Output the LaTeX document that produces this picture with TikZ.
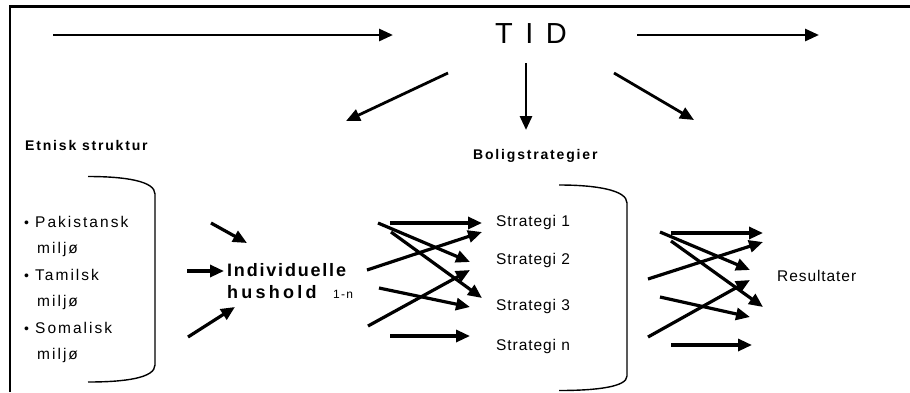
\documentclass[tikz,border=0pt]{standalone}
\usepackage{fontspec}
\setmainfont{Liberation Sans}
\newfontfamily\wideA[LetterSpace=13]{Liberation Sans}
\newfontfamily\wideB[LetterSpace=13]{Liberation Sans}
\newfontfamily\wideC[LetterSpace=10]{Liberation Sans}
\newfontfamily\wideE[LetterSpace=18]{Liberation Sans}
\newfontfamily\wideD[LetterSpace=6]{Liberation Sans}
\usetikzlibrary{arrows.meta}
\tikzset{
  lbl/.style={inner sep=0pt, anchor=base west},
  flow/.style={line width=3.2pt, -{Triangle[length=14pt,width=12pt]}},
  timearrow/.style={line width=2.8pt, -{Triangle[length=14pt,width=12pt]}},
  brace/.style={line width=1.4pt},
  frame/.style={line width=2.4pt}
}
\begin{document}
\begin{tikzpicture}[x=1pt,y=-1pt]
\useasboundingbox (0,0) rectangle (910,392);
\fill[white] (0,0) rectangle (910,392);
% frame (only the top and left edges)
\draw[frame] (10,392) -- (10,6.5) -- (910,6.5);

% time line
\node[lbl] (tid) at (495,43) {\fontsize{29}{29}\selectfont T\hspace{12.5pt}I\hspace{12.5pt}D};
\coordinate (t1a) at (53,35);   \coordinate (t1b) at (393,35);
\coordinate (t2a) at (637,35);  \coordinate (t2b) at (819,35);
\draw[timearrow] (t1a) -- (t1b);
\draw[timearrow] (t2a) -- (t2b);
\coordinate (dl0) at (448,73);  \coordinate (dl1) at (346,121);
\coordinate (dd0) at (526,63);  \coordinate (dd1) at (526,130);
\coordinate (dr0) at (614,73);  \coordinate (dr1) at (694,120);
\draw[timearrow] (dl0) -- (dl1);
\draw[timearrow] (dd0) -- (dd1);
\draw[timearrow] (dr0) -- (dr1);

% headings
\node[lbl] (etnisk) at (25,150.7) {\wideB\bfseries\fontsize{14}{14}\selectfont Etnisk struktur};
\node[lbl] (bolig) at (473,159.5) {\wideB\bfseries\fontsize{14}{14}\selectfont Boligstrategier};

% ethnic groups
\node[lbl] (bul1) at (24,227) {\fontsize{14}{14}\selectfont\textbullet};
\node[lbl] (pak) at (35,227) {\wideA\fontsize{15.5}{15.5}\selectfont Pakistansk};
\node[lbl] (pakm) at (37,253.5) {\wideA\fontsize{15.5}{15.5}\selectfont miljø};
\node[lbl] (bul2) at (24,280) {\fontsize{14}{14}\selectfont\textbullet};
\node[lbl] (tam) at (35,280) {\wideA\fontsize{15.5}{15.5}\selectfont Tamilsk};
\node[lbl] (tamm) at (37,306.5) {\wideA\fontsize{15.5}{15.5}\selectfont miljø};
\node[lbl] (bul3) at (24,333) {\fontsize{14}{14}\selectfont\textbullet};
\node[lbl] (som) at (35,333) {\wideA\fontsize{15.5}{15.5}\selectfont Somalisk};
\node[lbl] (somm) at (37,359.5) {\wideA\fontsize{15.5}{15.5}\selectfont miljø};

% left bracket
\draw[brace] (88,176.5) .. controls (125,176.5) and (155,181) .. (155,194)
  -- (155,365) .. controls (155,378) and (125,382) .. (88,382);

% households
\node[lbl] (indiv) at (227,276) {\wideC\bfseries\fontsize{18}{18}\selectfont Individuelle};
\node[lbl] (hus) at (227,298) {\wideE\bfseries\fontsize{18}{18}\selectfont hushold};
\node[lbl] (hn) at (333,298) {\wideC\fontsize{12}{12}\selectfont 1-n};
\coordinate (h1a) at (211,223); \coordinate (h1b) at (247,243);
\coordinate (h2a) at (187,271); \coordinate (h2b) at (224,271);
\coordinate (h3a) at (188,337); \coordinate (h3b) at (235,307);
\draw[flow] (h1a) -- (h1b);
\draw[flow] (h2a) -- (h2b);
\draw[flow] (h3a) -- (h3b);

% strategies
\node[lbl] (s1) at (496,226.5) {\wideD\fontsize{15.5}{15.5}\selectfont Strategi 1};
\node[lbl] (s2) at (496,264) {\wideD\fontsize{15.5}{15.5}\selectfont Strategi 2};
\node[lbl] (s3) at (496,310.5) {\wideD\fontsize{15.5}{15.5}\selectfont Strategi 3};
\node[lbl] (sn) at (496,350.5) {\wideD\fontsize{15.5}{15.5}\selectfont Strategi n};

\coordinate (a1) at (390,223); \coordinate (b1) at (482,223);
\coordinate (a2) at (378,223); \coordinate (b2) at (470,262);
\coordinate (a3) at (391,232); \coordinate (b3) at (482,298);
\coordinate (a4) at (367,270); \coordinate (b4) at (482,232);
\coordinate (a5) at (379,288); \coordinate (b5) at (470,307);
\coordinate (a6) at (368,326); \coordinate (b6) at (470,270);
\coordinate (a7) at (390,336); \coordinate (b7) at (470,336);
\foreach \i in {1,...,7} { \draw[flow] (a\i) -- (b\i); }

% right bracket
\draw[brace] (559,185) .. controls (596,185) and (627,190) .. (627,203)
  -- (627,376) .. controls (627,387) and (596,390.5) .. (559,390.5);

% results
\node[lbl] (res) at (777,281.5) {\wideD\fontsize{15.5}{15.5}\selectfont Resultater};
\coordinate (c1) at (671,233); \coordinate (d1) at (763,233);
\coordinate (c2) at (660,232); \coordinate (d2) at (750,270);
\coordinate (c3) at (671,241); \coordinate (d3) at (763,307);
\coordinate (c4) at (648,279); \coordinate (d4) at (763,242);
\coordinate (c5) at (660,297); \coordinate (d5) at (750,317);
\coordinate (c6) at (648,337); \coordinate (d6) at (750,280);
\coordinate (c7) at (671,345); \coordinate (d7) at (752,345);
\foreach \i in {1,...,7} { \draw[flow] (c\i) -- (d\i); }
\end{tikzpicture}
\end{document}
